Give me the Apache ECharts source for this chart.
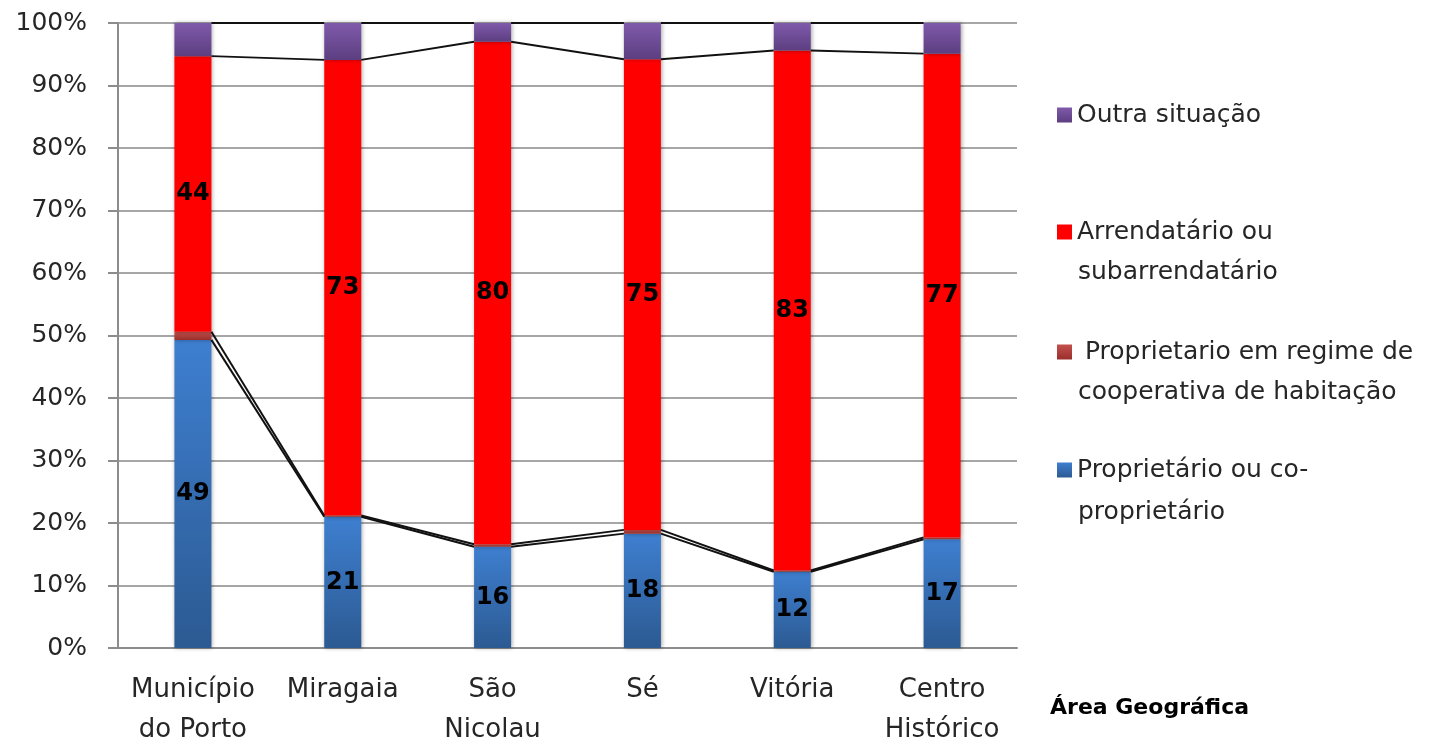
<!DOCTYPE html>
<html>
<head>
<meta charset="utf-8">
<script src="https://cdn.jsdelivr.net/npm/echarts@6/dist/echarts.min.js"></script>
<style>
html,body{margin:0;padding:0;background:#fff;overflow:hidden;}
#chart{width:1449px;height:750px;}
</style>
</head>
<body>
<div id="chart"></div>
<script>
// ---- data ----
var categories = ['Município\ndo Porto', 'Miragaia', 'São\nNicolau', 'Sé', 'Vitória', 'Centro\nHistórico'];
var proprietario = [49.3, 21.0, 16.2, 18.3, 12.2, 17.4];
var cooperativa = [1.3, 0.2, 0.4, 0.6, 0.2, 0.3];
var arrendatario = [44.1, 72.9, 80.4, 75.3, 83.2, 77.4];
var outra = [5.3, 5.9, 3.0, 5.8, 4.4, 4.9];
var yTicks = [0, 10, 20, 30, 40, 50, 60, 70, 80, 90, 100];
var seriesNames = ['Proprietário ou co-proprietário', 'Proprietario em regime de cooperativa de habitação', 'Arrendatário ou subarrendatário', 'Outra situação'];
var legendLine1 = ['Proprietário ou co-', ' Proprietario em regime de', 'Arrendatário ou', 'Outra situação'];
var legendLine2 = ['proprietário', 'cooperativa de habitação', 'subarrendatário', ''];
var axisTitle = 'Área Geográfica';

var BW = 37;
var FONT = 'DejaVu Sans';
var TXT = '#262626';

function grad(c1, c2) {
  return new echarts.graphic.LinearGradient(0, 0, 0, 1, [{offset: 0, color: c1}, {offset: 1, color: c2}]);
}
var barShadow = {shadowBlur: 4, shadowColor: 'rgba(0,0,0,0.35)', shadowOffsetX: 1, shadowOffsetY: 0};

var groups = [proprietario, cooperativa, arrendatario, outra];
var tops = groups.map(function (g, k) {
  return categories.map(function (c, i) {
    var s = 0;
    for (var j = 0; j <= k; j++) s += groups[j][i];
    return s;
  });
});
tops[3] = categories.map(function () { return 100; });

function seriesLine(k) {
  var d = [];
  for (var i = 0; i < categories.length - 1; i++) d.push([i, tops[k][i], tops[k][i + 1]]);
  return {
    type: 'custom',
    name: 'linha' + k,
    z: 5,
    silent: true,
    encode: {x: 0, y: 1},
    data: d,
    renderItem: function (params, api) {
      var i = api.value(0);
      var p1 = api.coord([i, api.value(1)]);
      var p2 = api.coord([i + 1, api.value(2)]);
      return {
        type: 'line',
        shape: {x1: p1[0] + BW / 2, y1: p1[1], x2: p2[0] - BW / 2, y2: p2[1]},
        style: {stroke: '#111', lineWidth: 2}
      };
    }
  };
}

var labelStyle = {
  show: true, position: 'inside', color: '#000', fontFamily: FONT, fontWeight: 'bold', fontSize: 24,
  formatter: function (p) { return Math.round(p.value); }
};

var chart = echarts.init(document.getElementById('chart'), null, {width: 1449, height: 750});
var legendFirstY = [470, 352, 232, 115];
var secondY = [512, 392, 272];
var legends = [];
for (var k = 0; k < 4; k++) {
  (function (k) {
    legends.push({
      left: 1057, top: legendFirstY[k] - 15,
      padding: 0,
      orient: 'vertical',
      icon: 'rect',
      itemWidth: 15, itemHeight: 15, itemGap: 0,
      selectedMode: false,
      data: [seriesNames[k]],
      formatter: function () { return legendLine1[k]; },
      textStyle: {fontFamily: FONT, fontSize: 25, color: TXT, lineHeight: 30}
    });
  })(k);
}

var graphics = secondY.map(function (y, k) {
  return {type: 'text', left: 1078, top: y - 15, style: {text: legendLine2[k], fontFamily: FONT, fontSize: 25, fill: TXT, lineHeight: 30}};
});
graphics.push({type: 'text', left: 1050, top: 708 - 15, style: {text: axisTitle, fontFamily: FONT, fontSize: 22, fontWeight: 'bold', fill: '#000', lineHeight: 30}});

option = {
  backgroundColor: '#fff',
  animation: false,
  grid: {left: 118, width: 899, top: 23, height: 631},
  legend: legends,
  xAxis: {
    type: 'category',
    data: categories,
    axisLine: {lineStyle: {color: '#8c8c8c', width: 2}},
    axisTick: {show: false},
    axisLabel: {fontFamily: FONT, fontSize: 26, color: TXT, lineHeight: 40, margin: 22, interval: 0}
  },
  yAxis: {
    type: 'value',
    min: yTicks[0], max: yTicks[yTicks.length - 1], interval: 10,
    axisLine: {show: true, lineStyle: {color: '#8c8c8c', width: 2}},
    axisTick: {show: true, length: 10, lineStyle: {color: '#8c8c8c', width: 2}},
    splitLine: {lineStyle: {color: '#a6a6a6', width: 2}},
    axisLabel: {fontFamily: FONT, fontSize: 25, color: TXT, margin: 31, formatter: '{value}%'}
  },
  graphic: graphics,
  series: [
    {name: seriesNames[0], type: 'bar', stack: 's', barWidth: BW, data: proprietario, label: labelStyle,
     itemStyle: Object.assign({color: grad('#3e7fd0', '#2c5a92')}, barShadow)},
    {name: seriesNames[1], type: 'bar', stack: 's', barWidth: BW, data: cooperativa,
     itemStyle: Object.assign({color: grad('#c3504d', '#9a2f2c')}, barShadow)},
    {name: seriesNames[2], type: 'bar', stack: 's', barWidth: BW, data: arrendatario, label: labelStyle,
     itemStyle: Object.assign({color: '#ff0000'}, barShadow)},
    {name: seriesNames[3], type: 'bar', stack: 's', barWidth: BW, data: outra,
     itemStyle: Object.assign({color: grad('#7f5aab', '#5c3e80')}, barShadow)},
    seriesLine(0), seriesLine(1), seriesLine(2), seriesLine(3)
  ]
};
chart.setOption(option);
</script>
</body>
</html>
